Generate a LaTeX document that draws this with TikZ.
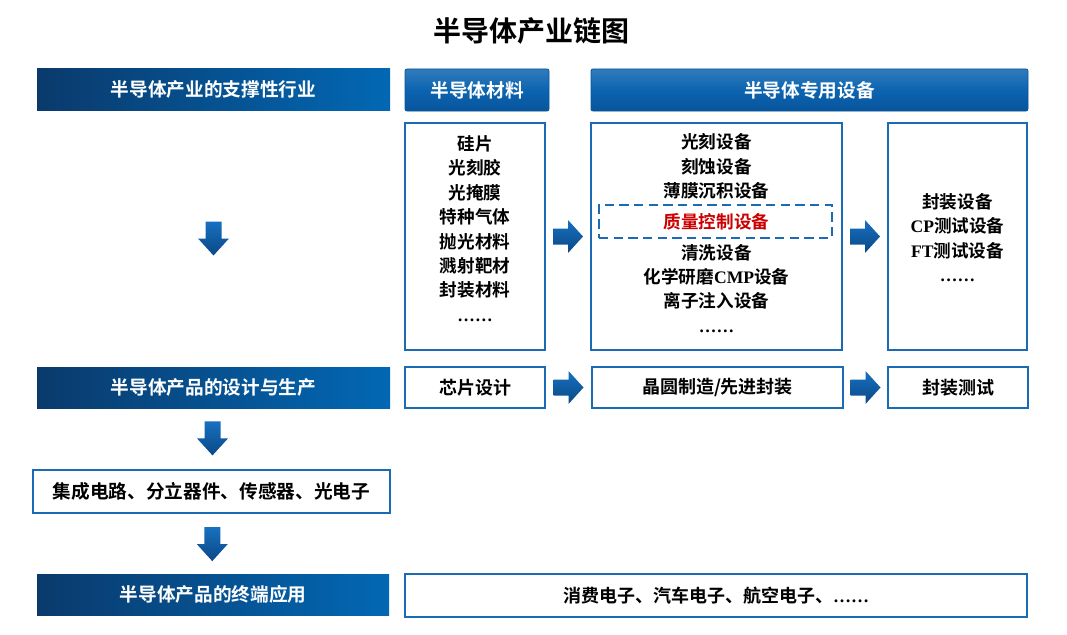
\documentclass[tikz,border=0pt]{standalone}
\usepackage{fontspec}
\newfontfamily\cjk{Noto Sans CJK SC}[BoldFont={* Bold}]
\newfontfamily\latf{Liberation Serif}
\newcommand\latx[1]{{\latf\bfseries #1}}
\usetikzlibrary{calc}
\definecolor{hdrL}{RGB}{10,58,108}
\definecolor{hdrR}{RGB}{2,104,180}
\definecolor{hblue}{RGB}{12,100,176}
\definecolor{hblueD}{RGB}{8,84,156}
\definecolor{bdr}{RGB}{26,106,180}
\definecolor{arL}{RGB}{24,112,192}
\definecolor{arD}{RGB}{10,72,134}
\definecolor{qred}{RGB}{204,0,0}
\begin{document}
\begin{tikzpicture}[x=0.75pt,y=-0.75pt,
  hdrbar/.style={draw=none,left color=hdrL,right color=hdrR,text=white,
    font=\cjk\bfseries\fontsize{14}{16}\selectfont},
  hdrbox/.style={draw=hblueD,line width=0.6pt,rounded corners=1.5pt,top color=hblue!85!white,bottom color=hblueD,middle color=hblue,text=white,
    font=\cjk\bfseries\fontsize{14}{16}\selectfont},
  wbox/.style={draw=bdr,line width=2.2pt,fill=white,
    font=\cjk\bfseries\fontsize{13.5}{16}\selectfont},
  listtxt/.style={align=center,inner sep=0pt,
    font=\cjk\bfseries\fontsize{13.2}{18.3}\selectfont},
  dashbox/.style={draw=bdr,line width=1.6pt,dash pattern=on 7pt off 4pt},
  blockarrow/.style={top color=arL,bottom color=arD,draw=none}
]
\useasboundingbox (0,0) rectangle (1067,635);

% title
\node[font=\cjk\bfseries\fontsize{21}{24}\selectfont] (title) at (531,31) {半导体产业链图};

% left header bars
\node[hdrbar,minimum width={353*0.75pt},minimum height={41*0.75pt}] (hdrA) at (213.5,89.5) {半导体产业的支撑性行业};
\node[hdrbar,minimum width={353*0.75pt},minimum height={41*0.75pt}] (hdrB) at (213.5,387.5) {半导体产品的设计与生产};
\node[hdrbar,minimum width={352*0.75pt},minimum height={41*0.75pt}] (hdrC) at (213,594.5) {半导体产品的终端应用};

% top headers
\node[hdrbox,minimum width={144*0.75pt},minimum height={42*0.75pt}] (matH) at (477,90) {半导体材料};
\node[hdrbox,minimum width={437*0.75pt},minimum height={42*0.75pt}] (eqH) at (809.5,90) {半导体专用设备};

% big boxes
\node[wbox,minimum width={140*0.75pt},minimum height={227*0.75pt}] (mat) at (475,236.5) {};
\node[wbox,minimum width={251*0.75pt},minimum height={227*0.75pt}] (eq) at (716.5,236.5) {};
\node[wbox,minimum width={139*0.75pt},minimum height={227*0.75pt}] (pk) at (957.5,236.5) {};
\node[dashbox,minimum width={233*0.75pt},minimum height={33*0.75pt}] (dsh) at (715.5,221.5) {};

\node[listtxt] (matT) at (475,228.5) {硅片\\光刻胶\\光掩膜\\特种气体\\抛光材料\\溅射靶材\\封装材料\\{\latf ……}};
\node[listtxt] (eqT) at (716.5,233) {光刻设备\\刻蚀设备\\薄膜沉积设备\\[5.3pt]\textcolor{qred}{质量控制设备}\\[4.3pt]清洗设备\\化学研磨\latx{CMP}设备\\离子注入设备\\{\latf ……}};
\node[listtxt] (pkT) at (957.5,237.5) {封装设备\\\latx{CP}测试设备\\\latx{FT}测试设备\\{\latf ……}};

% row 2
\node[wbox,minimum width={140*0.75pt},minimum height={41*0.75pt}] (chip) at (475,387.5) {芯片设计};
\node[wbox,minimum width={251*0.75pt},minimum height={41*0.75pt}] (fab) at (717.5,387.5) {晶圆制造/先进封装};
\node[wbox,minimum width={140*0.75pt},minimum height={41*0.75pt}] (test) at (958,387.5) {封装测试};

% products and applications
\node[wbox,minimum width={357*0.75pt},minimum height={43*0.75pt},font=\cjk\bfseries\fontsize{14}{16}\selectfont] (prod) at (211.5,491.5) {集成电路、分立器件、传感器、光电子};
\node[wbox,minimum width={622*0.75pt},minimum height={43*0.75pt}] (app) at (716,595.5) {消费电子、汽车电子、航空电子、{\latf ……}};

% right block arrows
\foreach \a/\b in {mat/eq,eq/pk,chip/fab,fab/test}{
  \path[blockarrow,shift={($(\a.east)!0.5!(\b.west)$)}]
    (-15,-8) -- (0,-8) -- (0,-16.5) -- (15,0) -- (0,16.5) -- (0,8) -- (-15,8) -- cycle;
}
% down block arrows
\foreach \a/\b in {hdrA/hdrB,hdrB/prod,prod/hdrC}{
  \path[blockarrow,shift={($(\a.south)!0.5!(\b.north)$)}]
    (-8,-17) -- (8,-17) -- (8,0) -- (15.5,0) -- (0,17) -- (-15.5,0) -- (-8,0) -- cycle;
}
\end{tikzpicture}
\end{document}
